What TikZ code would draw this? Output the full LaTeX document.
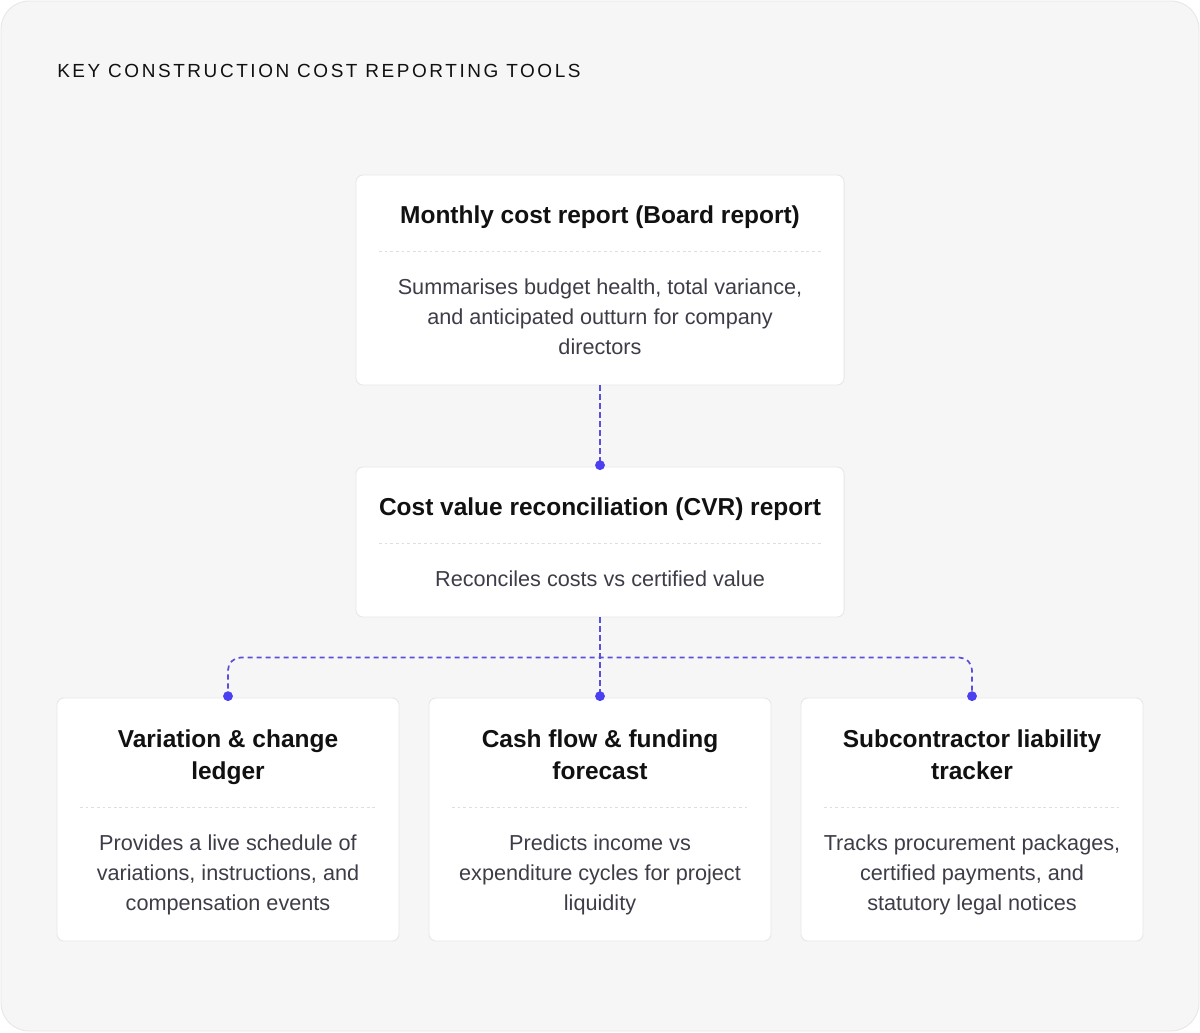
\documentclass[tikz,border=0pt]{standalone}
\usepackage{fontspec}
\setmainfont{Liberation Sans}
\newfontfamily\capsfont[LetterSpace=13.5]{Liberation Sans}
\definecolor{bgc}{HTML}{F6F6F6}
\definecolor{frame}{HTML}{E6E6E6}
\definecolor{cardline}{HTML}{E6E6E6}
\definecolor{ink}{HTML}{111111}
\definecolor{bodyc}{HTML}{3D3D48}
\definecolor{linkc}{HTML}{5A4FD9}
\definecolor{dotc}{HTML}{4B3FF2}
\definecolor{sepc}{HTML}{DEDEDE}
\tikzset{
  card/.style={draw=cardline, fill=white, rounded corners=5pt, line width=0.6pt, inner sep=0pt},
  ttl/.style={font=\fontsize{17.4}{22.8}\selectfont\bfseries, text=ink, align=center, inner sep=0pt, anchor=north},
  txt/.style={font=\fontsize{15.4}{21.3}\selectfont, text=bodyc, align=center, inner sep=0pt},
  sep/.style={draw=sepc, line width=0.6pt, dash pattern=on 2pt off 2pt},
  link/.style={draw=linkc, line width=1.2pt, dash pattern=on 3.6pt off 2.8pt},
  hub/.style={circle, fill=dotc, inner sep=0pt, minimum size=7pt}
}
\begin{document}
\begin{tikzpicture}[x=0.025cm,y=-0.025cm]
  \useasboundingbox (0,0) rectangle (1200,1032);
  \draw[fill=bgc, draw=frame, line width=0.6pt, rounded corners=20pt] (1,1) rectangle (1199,1031);
  \node[anchor=west, inner sep=0pt, text=ink, font=\capsfont\fontsize{13.5}{16}\selectfont] (head) at (57,71) {KEY CONSTRUCTION COST REPORTING TOOLS};
  % top two cards
  \node[card, minimum width=12.2cm, minimum height=5.25cm] (board) at (600,280) {};
  \node[ttl] (board-t) at (600,200.3) {\strut Monthly cost report (Board report)};
  \draw[sep] (379,251) -- (821,251);
  \node[txt] (board-b) at (600,317) {Summarises budget health, total variance,\\and anticipated outturn for company\\directors};
  \node[card, minimum width=12.2cm, minimum height=3.75cm] (cvr) at (600,542) {};
  \node[ttl] (cvr-t) at (600,492.3) {\strut Cost value reconciliation (CVR) report};
  \draw[sep] (379,543) -- (821,543);
  \node[txt] (cvr-b) at (600,579) {Reconciles costs vs certified value};
  % bottom row
  \foreach \x/\nm/\ttl/\txt in {
      228/var/{Variation \& change\\ledger}/{Provides a live schedule of\\variations, instructions, and\\compensation events},
      600/cash/{Cash flow \& funding\\forecast}/{Predicts income vs\\expenditure cycles for project\\liquidity},
      972/sub/{Subcontractor liability\\tracker}/{Tracks procurement packages,\\certified payments, and\\statutory legal notices}} {
    \node[card, minimum width=8.55cm, minimum height=6.075cm] (\nm) at (\x,819.5) {};
    \node[ttl] (\nm-t) at (\x,724.3) {\strut\ttl};
    \draw[sep] (\x-148,807) -- (\x+148,807);
    \node[txt] (\nm-b) at (\x,875) {\txt};
  }
  % connectors
  \draw[link] (board.south) -- (cvr.north);
  \draw[link] (cvr.south) -- (cash.north);
  \draw[link, rounded corners=9pt] (var.north) -- ++(0,-40) -| (sub.north);
  \foreach \nm in {cvr,var,cash,sub} \node[hub] (\nm-dot) at ([yshift=1pt]\nm.north) {};
\end{tikzpicture}
\end{document}
